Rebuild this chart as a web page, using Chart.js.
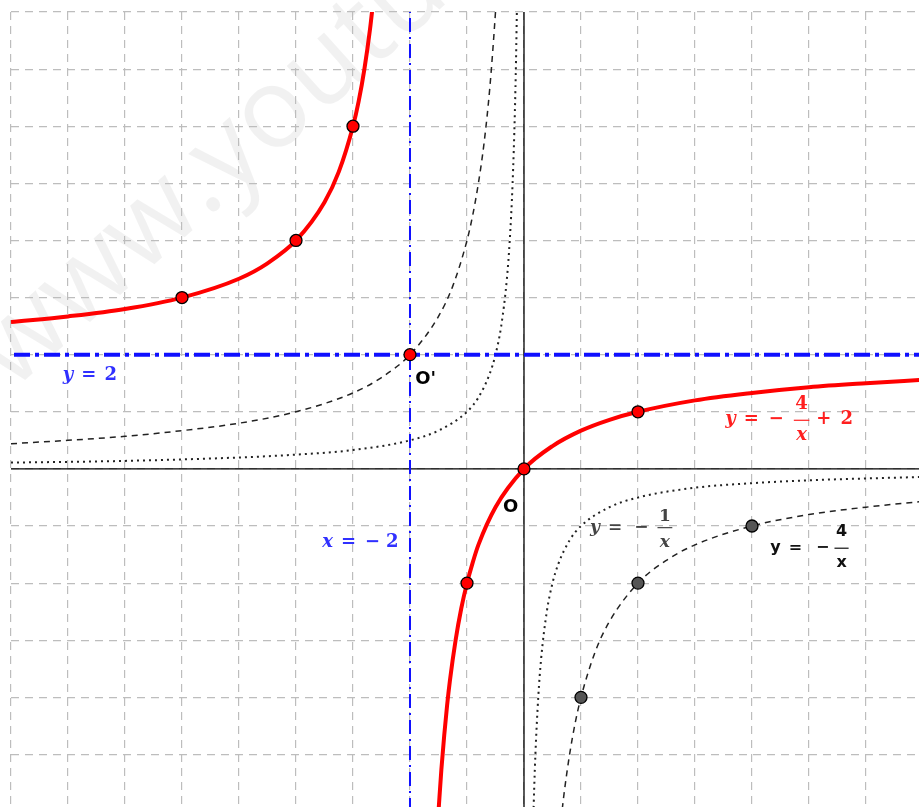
<!DOCTYPE html>
<html>
<head>
<meta charset="utf-8">
<script src="https://cdn.jsdelivr.net/npm/chart.js@4.4.0/dist/chart.umd.min.js"></script>
<style>
  html, body { margin: 0; padding: 0; background: #fff; }
  #wrap { width: 919px; height: 807px; }
</style>
</head>
<body>
<div id="wrap"><canvas id="graph"></canvas></div>
<script>
// visible window (graph units)
const xMin = -9, xMax = 6.93;
const yMin = -5.92, yMax = 8;

// red curve y = -4/(x+2) + 2
const redLeftX  = [-9, -8, -7, -6, -5, -4.5, -4, -3.5, -3.25, -3, -2.9, -2.8, -2.7, -2.65];
const redLeftY  = [2.57, 2.67, 2.8, 3, 3.33, 3.6, 4, 4.67, 5.2, 6, 6.44, 7, 7.71, 8.15];
const redRightX = [-1.5, -1.45, -1.4, -1.35, -1.3, -1.2, -1.1, -1, -0.9, -0.8, -0.5, 0, 0.5, 1, 1.5, 2, 3, 4, 5, 6, 7];
const redRightY = [-6, -5.27, -4.67, -4.15, -3.71, -3, -2.44, -2, -1.64, -1.33, -0.67, 0, 0.4, 0.67, 0.86, 1, 1.2, 1.33, 1.43, 1.5, 1.56];

// dashed curve y = -4/x
const dashLeftX  = [-9, -8, -7, -6, -5, -4, -3, -2.5, -2, -1.5, -1.25, -1, -0.9, -0.8, -0.7, -0.6, -0.5, -0.48];
const dashLeftY  = [0.44, 0.5, 0.57, 0.67, 0.8, 1, 1.33, 1.6, 2, 2.67, 3.2, 4, 4.44, 5, 5.71, 6.67, 8, 8.33];
const dashRightX = [0.65, 0.7, 0.8, 0.9, 1, 1.25, 1.5, 2, 2.5, 3, 4, 5, 6, 7];
const dashRightY = [-6.15, -5.71, -5, -4.44, -4, -3.2, -2.67, -2, -1.6, -1.33, -1, -0.8, -0.67, -0.57];

// dotted curve y = -1/x
const dotLeftX  = [-9, -7, -5, -4, -3, -2, -1.5, -1, -0.8, -0.6, -0.5, -0.4, -0.3, -0.25, -0.2, -0.16, -0.14, -0.12];
const dotLeftY  = [0.11, 0.14, 0.2, 0.25, 0.33, 0.5, 0.67, 1, 1.25, 1.67, 2, 2.5, 3.33, 4, 5, 6.25, 7.14, 8.33];
const dotRightX = [0.16, 0.18, 0.2, 0.25, 0.3, 0.4, 0.5, 0.6, 0.8, 1, 1.5, 2, 3, 4, 5, 7];
const dotRightY = [-6.25, -5.56, -5, -4, -3.33, -2.5, -2, -1.67, -1.25, -1, -0.67, -0.5, -0.33, -0.25, -0.2, -0.14];

// marked points
const redPtsX  = [-6, -4, -3, -2, -1, 0, 2];
const redPtsY  = [3, 4, 6, 2, -2, 0, 1];
const grayPtsX = [1, 2, 4];
const grayPtsY = [-4, -2, -1];

// asymptotes x = -2, y = 2
const asymX = -2, asymY = 2;

const pts = (xs, ys) => xs.map((x, i) => ({ x: x, y: ys[i] }));
const curve = (xs, ys, color, width, dash) => ({
    data: pts(xs, ys), showLine: true, borderColor: color, borderWidth: width,
    borderDash: dash, pointRadius: 0, cubicInterpolationMode: 'monotone', fill: false
});
const straight = (data, color, width, dash) => ({
    data: data, showLine: true, borderColor: color, borderWidth: width,
    borderDash: dash, pointRadius: 0, tension: 0, fill: false
});

// parts: {t, it} text, {g} gap in px, {frac:[num, den], itDen}
function mathLabel(chart, xv, yv, parts, color, size, family, numOff, denOff) {
    const ctx = chart.ctx;
    let cx = chart.scales.x.getPixelForValue(xv);
    const py = chart.scales.y.getPixelForValue(yv);
    ctx.save();
    ctx.fillStyle = color;
    ctx.strokeStyle = color;
    ctx.textBaseline = 'middle';
    parts.forEach(p => {
        if (p.g) {
            cx += p.g;
        } else if (p.frac) {
            ctx.font = 'bold ' + size + 'px ' + family;
            const w = Math.max(ctx.measureText(p.frac[0]).width, ctx.measureText(p.frac[1]).width) + 3;
            ctx.textAlign = 'center';
            ctx.fillText(p.frac[0], cx + w / 2, py + numOff);
            ctx.font = (p.itDen ? 'italic ' : '') + 'bold ' + size + 'px ' + family;
            ctx.fillText(p.frac[1], cx + w / 2, py + denOff);
            ctx.lineWidth = 1.2;
            ctx.beginPath();
            ctx.moveTo(cx, py + 0.5);
            ctx.lineTo(cx + w, py + 0.5);
            ctx.stroke();
            cx += w;
        } else {
            ctx.font = (p.it ? 'italic ' : '') + 'bold ' + size + 'px ' + family;
            ctx.textAlign = 'left';
            ctx.fillText(p.t, cx, py);
            cx += ctx.measureText(p.t).width;
        }
    });
    ctx.restore();
}

const watermark = {
    id: 'watermark',
    beforeDraw(chart) {
        const ctx = chart.ctx;
        ctx.save();
        ctx.translate(12, 392);
        ctx.rotate(-0.73);
        ctx.font = '112px "Open Sans"';
        ctx.fillStyle = 'rgba(0,0,0,0.055)';
        ctx.fillText('www.youtube.com', 0, 0);
        ctx.restore();
    }
};

const labels = {
    id: 'labels',
    afterDatasetsDraw(chart) {
        const serif = '"DejaVu Serif"';
        const sans = '"DejaVu Sans"';
        const blue = '#3030ff';
        mathLabel(chart, -8.09, 1.63, [{ t: 'y', it: true }, { g: 8 }, { t: '=' }, { g: 8 }, { t: '2' }], blue, 18, serif, 0, 0);
        mathLabel(chart, -3.54, -1.28, [{ t: 'x', it: true }, { g: 8 }, { t: '=' }, { g: 9 }, { t: '−' }, { g: 6 }, { t: '2' }], blue, 18, serif, 0, 0);
        mathLabel(chart, -1.91, 1.56, [{ t: "O'" }], '#000', 18, sans, 0, 0);
        mathLabel(chart, -0.37, -0.67, [{ t: 'O' }], '#000', 18, sans, 0, 0);
        mathLabel(chart, 3.53, 0.86, [{ t: 'y', it: true }, { g: 8 }, { t: '=' }, { g: 10 }, { t: '−' }, { g: 10 },
            { frac: ['4', 'x'], itDen: true }, { g: 7 }, { t: '+' }, { g: 9 }, { t: '2' }], '#ff1f1f', 18, serif, -15, 16);
        mathLabel(chart, 1.16, -1.02, [{ t: 'y', it: true }, { g: 8 }, { t: '=' }, { g: 12 }, { t: '−' }, { g: 9 },
            { frac: ['1', 'x'], itDen: true }], '#444', 17, serif, -11, 15);
        mathLabel(chart, 4.32, -1.38, [{ t: 'y' }, { g: 8 }, { t: '=' }, { g: 14 }, { t: '−' }, { g: 5 },
            { frac: ['4', 'x'] }], '#111', 16, sans, -16, 15);
    }
};

const intTicks = (scale) => {
    const t = [];
    for (let v = Math.ceil(scale.min); v <= Math.floor(scale.max); v++) t.push({ value: v });
    scale.ticks = t;
};

const gridAxis = (min, max) => ({
    type: 'linear', min: min, max: max,
    afterBuildTicks: intTicks,
    ticks: { display: false },
    border: { display: false, dash: [8, 6] },
    grid: { color: '#bdbdbd', lineWidth: 1.2, drawTicks: false }
});

new Chart(document.getElementById('graph'), {
    type: 'scatter',
    data: {
        datasets: [
            {
                data: pts(redPtsX, redPtsY), pointRadius: 6, pointBackgroundColor: '#ff0000',
                pointBorderColor: '#000', pointBorderWidth: 1.3, showLine: false
            },
            {
                data: pts(grayPtsX, grayPtsY), pointRadius: 6, pointBackgroundColor: '#555555',
                pointBorderColor: '#000', pointBorderWidth: 1.3, showLine: false
            },
            curve(redLeftX, redLeftY, '#ff0000', 4, []),
            curve(redRightX, redRightY, '#ff0000', 4, []),
            straight([{ x: xMin - 1, y: asymY }, { x: xMax + 1, y: asymY }], '#1010ff', 4, [16, 5, 4, 5]),
            straight([{ x: asymX, y: yMin - 1 }, { x: asymX, y: yMax + 1 }], '#1010ff', 2, [14, 5, 2, 5]),
            curve(dashLeftX, dashLeftY, '#222', 1.5, [6, 5]),
            curve(dashRightX, dashRightY, '#222', 1.5, [6, 5]),
            curve(dotLeftX, dotLeftY, '#222', 2, [2, 4]),
            curve(dotRightX, dotRightY, '#222', 2, [2, 4]),
            straight([{ x: xMin - 1, y: 0 }, { x: xMax + 1, y: 0 }], '#000', 1.3, []),
            straight([{ x: 0, y: yMin - 1 }, { x: 0, y: yMax + 1 }], '#000', 1.3, [])
        ]
    },
    options: {
        responsive: true,
        maintainAspectRatio: false,
        animation: false,
        layout: { autoPadding: false, padding: { left: 11, top: 12, right: 0, bottom: 0 } },
        plugins: { legend: { display: false }, tooltip: { enabled: false }, title: { display: false } },
        scales: {
            x: gridAxis(xMin, xMax),
            y: gridAxis(yMin, yMax)
        }
    },
    plugins: [watermark, labels]
});
</script>
</body>
</html>
